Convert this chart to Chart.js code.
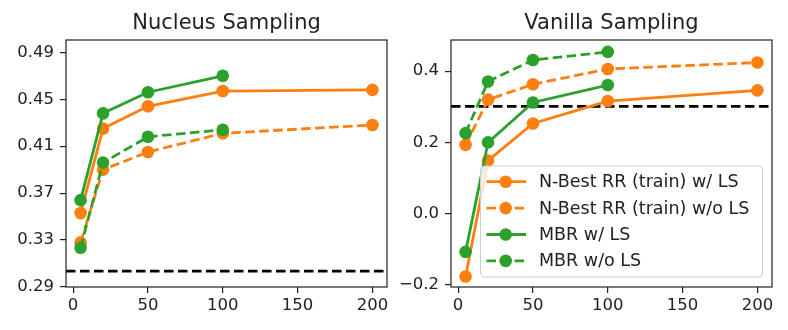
<!DOCTYPE html>
<html>
<head>
<meta charset="utf-8">
<script src="https://cdn.jsdelivr.net/npm/chart.js@4.4.1/dist/chart.umd.min.js"></script>
<style>
  html, body { margin: 0; padding: 0; background: #fff; }
  #wrap { position: relative; width: 788px; height: 330px; }
  canvas { position: absolute; top: 0; }
</style>
</head>
<body>
<div id="wrap">
  <canvas id="nucleus" width="394" height="330" style="left:0"></canvas>
  <canvas id="vanilla" width="394" height="330" style="left:394px"></canvas>
</div>
<script>
// sample counts
const kValues = [5, 20, 50, 100, 200];
const kValuesMbr = [5, 20, 50, 100];
const xTicks = [0, 50, 100, 150, 200];

// Nucleus sampling
const nbestLsNuc = [0.353, 0.425, 0.444, 0.457, 0.458];
const nbestNoLsNuc = [0.328, 0.390, 0.405, 0.421, 0.428];
const mbrLsNuc = [0.364, 0.438, 0.456, 0.470];
const mbrNoLsNuc = [0.3235, 0.396, 0.418, 0.424];
const baselineNuc = 0.3035;
const yTicksNuc = [0.29, 0.33, 0.37, 0.41, 0.45, 0.49];

// Vanilla sampling
const nbestLsVan = [-0.176, 0.149, 0.253, 0.316, 0.346];
const nbestNoLsVan = [0.193, 0.320, 0.363, 0.406, 0.424];
const mbrLsVan = [-0.107, 0.200, 0.312, 0.361];
const mbrNoLsVan = [0.226, 0.371, 0.431, 0.454];
const baselineVan = 0.301;
const yTicksVan = [-0.2, 0.0, 0.2, 0.4];

const seriesNames = [
  'N-Best RR (train) w/ LS',
  'N-Best RR (train) w/o LS',
  'MBR w/ LS',
  'MBR w/o LS'
];

const ORANGE = '#ff7f0e';
const GREEN = '#2ca02c';
const TXT = '#222';
const DASH = [9.5, 4.5];
const LW = 2.8;
const XMIN = -4.75, XMAX = 209.75;
const FONT = 'DejaVu Sans';

function pts(xs, ys) {
  return ys.map((y, i) => ({ x: xs[i], y: y }));
}

function series(label, xs, ys, color, dashed, order) {
  return {
    label: label,
    data: pts(xs, ys),
    borderColor: color,
    backgroundColor: color,
    borderWidth: LW,
    borderDash: dashed ? DASH : [],
    pointRadius: 6.3,
    pointBorderWidth: 0,
    pointBackgroundColor: color,
    tension: 0,
    order: order,
    inLegend: true
  };
}

function baseline(y) {
  return {
    label: 'baseline',
    data: [{ x: XMIN, y: y }, { x: XMAX, y: y }],
    borderColor: '#000',
    borderWidth: LW,
    borderDash: DASH,
    pointRadius: 0,
    order: 9,
    inLegend: false
  };
}

// title + axes frame
const framePlugin = {
  id: 'frame',
  afterDatasetsDraw(chart, args, opts) {
    const { ctx, chartArea: a } = chart;
    ctx.save();
    ctx.strokeStyle = TXT;
    ctx.lineWidth = 1.2;
    ctx.strokeRect(a.left, a.top, a.right - a.left, a.bottom - a.top);
    ctx.fillStyle = TXT;
    ctx.font = '21px "' + FONT + '"';
    ctx.textAlign = 'center';
    ctx.textBaseline = 'alphabetic';
    ctx.fillText(opts.text, (a.left + a.right) / 2, 29);
    ctx.restore();
  }
};

// legend inside the right panel
const legendPlugin = {
  id: 'innerLegend',
  afterDraw(chart) {
    if (!chart.options.plugins.innerLegend.show) return;
    const ctx = chart.ctx;
    const sets = chart.data.datasets.filter(d => d.inLegend);
    const bx = 86.5, by = 166, bw = 282, bh = 111;
    ctx.save();
    ctx.beginPath();
    ctx.roundRect(bx, by, bw, bh, 4);
    ctx.fillStyle = 'rgba(255,255,255,0.8)';
    ctx.fill();
    ctx.strokeStyle = '#cccccc';
    ctx.lineWidth = 1;
    ctx.stroke();
    ctx.font = '17.5px "' + FONT + '"';
    ctx.textBaseline = 'middle';
    sets.forEach((d, i) => {
      const y = 181.7 + i * 26.4;
      ctx.strokeStyle = d.borderColor;
      ctx.lineWidth = LW;
      ctx.setLineDash(d.borderDash);
      ctx.beginPath();
      ctx.moveTo(92.5, y);
      ctx.lineTo(132, y);
      ctx.stroke();
      ctx.setLineDash([]);
      ctx.fillStyle = d.borderColor;
      ctx.beginPath();
      ctx.arc(111.7, y, 6.3, 0, Math.PI * 2);
      ctx.fill();
      ctx.fillStyle = TXT;
      ctx.fillText(d.label, 145, y + 1);
    });
    ctx.restore();
  }
};

function makeChart(id, title, sets, yTicks, yMin, yMax, fmt, padRight, yWidth, showLegend) {
  return new Chart(document.getElementById(id), {
    type: 'line',
    data: { datasets: sets },
    options: {
      responsive: false,
      animation: false,
      devicePixelRatio: 1,
      layout: { padding: { top: 40, right: padRight, left: 0, bottom: 0 } },
      plugins: {
        legend: { display: false },
        tooltip: { enabled: false },
        frame: { text: title },
        innerLegend: { show: showLegend }
      },
      scales: {
        x: {
          type: 'linear',
          min: XMIN,
          max: XMAX,
          afterBuildTicks: s => { s.ticks = xTicks.map(v => ({ value: v })); },
          afterFit: s => { s.height = 43; },
          grid: { drawOnChartArea: false, drawTicks: true, tickLength: 6, color: TXT, lineWidth: 1.2 },
          border: { display: false },
          ticks: { color: TXT, font: { family: FONT, size: 16.5 }, padding: 3, maxRotation: 0 }
        },
        y: {
          min: yMin,
          max: yMax,
          afterBuildTicks: s => { s.ticks = yTicks.map(v => ({ value: v })); },
          afterFit: s => { s.width = yWidth; },
          grid: { drawOnChartArea: false, drawTicks: true, tickLength: 6, color: TXT, lineWidth: 1.2 },
          border: { display: false },
          ticks: { color: TXT, font: { family: FONT, size: 16.5 }, padding: 6, callback: fmt }
        }
      }
    },
    plugins: [framePlugin, legendPlugin]
  });
}

makeChart('nucleus', 'Nucleus Sampling', [
  baseline(baselineNuc),
  series(seriesNames[0], kValues, nbestLsNuc, ORANGE, false, 3),
  series(seriesNames[1], kValues, nbestNoLsNuc, ORANGE, true, 2),
  series(seriesNames[2], kValuesMbr, mbrLsNuc, GREEN, false, 1),
  series(seriesNames[3], kValuesMbr, mbrNoLsNuc, GREEN, true, 0)
], yTicksNuc, 0.29, 0.5005, v => v.toFixed(2), 7, 66, false);

makeChart('vanilla', 'Vanilla Sampling', [
  baseline(baselineVan),
  series(seriesNames[0], kValues, nbestLsVan, ORANGE, false, 3),
  series(seriesNames[1], kValues, nbestNoLsVan, ORANGE, true, 2),
  series(seriesNames[2], kValuesMbr, mbrLsVan, GREEN, false, 1),
  series(seriesNames[3], kValuesMbr, mbrNoLsVan, GREEN, true, 0)
], yTicksVan, -0.2056, 0.4873, v => v.toFixed(1).replace('-', '\u2212'), 16, 57, true);
</script>
</body>
</html>
